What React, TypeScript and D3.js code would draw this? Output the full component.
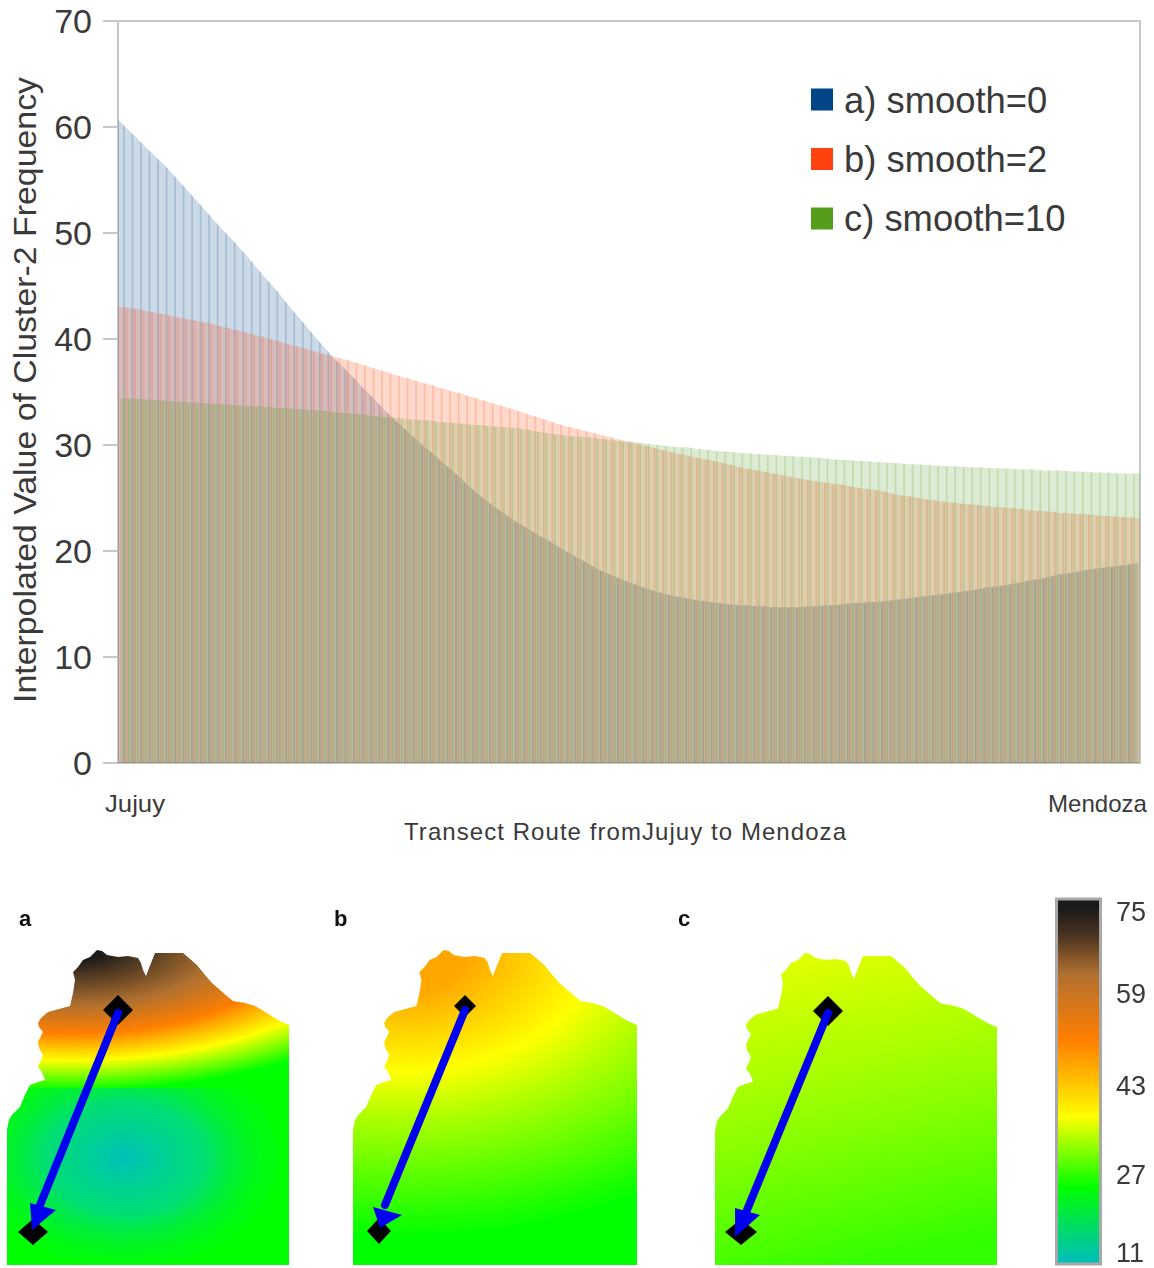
import React from "react";
import * as d3 from "d3";

const yTicks = [0, 10, 20, 30, 40, 50, 60, 70];
const endLabels = ["Jujuy", "Mendoza"];
const legendLabels = ["a) smooth=0", "b) smooth=2", "c) smooth=10"];
const seriesColors = ["#004586", "#ff420e", "#579d1c"];

const smooth0 = [60.3,59.5,58.7,57.9,57.1,56.4,55.5,54.6,53.7,52.8,51.9,51.0,50.1,49.3,48.4,47.5,46.5,45.6,44.7,43.7,42.7,41.8,40.8,39.9,38.9,38.1,37.3,36.5,35.6,34.8,34.0,33.1,32.4,31.6,30.9,30.2,29.5,28.8,28.1,27.4,26.7,25.9,25.2,24.6,24.0,23.4,22.9,22.4,21.9,21.4,21.0,20.5,20.0,19.6,19.1,18.7,18.2,17.9,17.5,17.2,16.9,16.6,16.3,16.1,15.9,15.7,15.6,15.4,15.3,15.2,15.1,15.0,14.9,14.9,14.8,14.8,14.7,14.7,14.7,14.7,14.7,14.8,14.8,14.9,14.9,15.0,15.1,15.1,15.2,15.2,15.3,15.4,15.5,15.6,15.7,15.8,15.9,16.0,16.1,16.2,16.3,16.5,16.6,16.7,16.8,17.0,17.1,17.3,17.4,17.6,17.8,17.9,18.0,18.2,18.3,18.4,18.5,18.6,18.7,18.8];
const smooth2 = [43.0,42.9,42.8,42.6,42.5,42.3,42.1,42.0,41.8,41.7,41.5,41.3,41.1,40.9,40.7,40.5,40.3,40.1,39.9,39.6,39.4,39.2,39.0,38.7,38.5,38.3,38.1,37.9,37.6,37.4,37.1,36.9,36.6,36.4,36.2,35.9,35.7,35.5,35.2,35.0,34.8,34.5,34.3,34.1,33.8,33.6,33.3,33.1,32.8,32.6,32.3,32.0,31.8,31.6,31.4,31.2,31.0,30.8,30.6,30.4,30.2,30.0,29.8,29.6,29.4,29.2,29.1,28.9,28.7,28.6,28.4,28.2,28.0,27.8,27.7,27.5,27.4,27.2,27.1,26.9,26.8,26.6,26.5,26.4,26.3,26.2,26.0,25.9,25.8,25.7,25.5,25.3,25.2,25.1,24.9,24.8,24.7,24.6,24.5,24.4,24.4,24.3,24.2,24.1,24.1,24.0,23.9,23.8,23.8,23.7,23.6,23.6,23.5,23.5,23.4,23.3,23.3,23.2,23.2,23.1];
const smooth10 = [34.4,34.4,34.3,34.3,34.2,34.2,34.1,34.1,34.0,34.0,33.9,33.9,33.8,33.8,33.7,33.7,33.6,33.6,33.5,33.5,33.4,33.4,33.3,33.3,33.2,33.1,33.0,33.0,32.9,32.8,32.7,32.6,32.6,32.5,32.4,32.4,32.3,32.2,32.1,32.1,32.0,31.9,31.9,31.8,31.7,31.7,31.6,31.5,31.4,31.2,31.1,31.0,30.9,30.8,30.8,30.7,30.6,30.5,30.4,30.3,30.3,30.2,30.1,30.0,29.9,29.8,29.8,29.7,29.6,29.5,29.4,29.4,29.3,29.2,29.2,29.1,29.1,29.0,29.0,28.9,28.9,28.8,28.8,28.7,28.6,28.6,28.5,28.5,28.4,28.4,28.3,28.3,28.2,28.2,28.1,28.1,28.0,28.0,28.0,27.9,27.9,27.9,27.8,27.8,27.8,27.7,27.7,27.7,27.6,27.6,27.6,27.5,27.5,27.5,27.4,27.4,27.4,27.3,27.3,27.3];
const allSeries = [smooth0, smooth2, smooth10];

const colorValues = [75, 70, 63, 51, 44, 37, 24, 11];
const colorHexes = ["#1a1a1a", "#4a3320", "#b07030", "#ff7f00", "#ffbb00", "#ffff00", "#00ff00", "#00c0b4"];
const colorTicks = [75, 59, 43, 27, 11];

const outline: [number, number][] = [[97,950],[102,951],[107,955],[118,957],[128,956],[138,958],[141,963],[143,970],[146,976],[149,968],[155,953],[183,953],[190,959],[197,965],[205,975],[212,983],[220,990],[228,997],[233,1001],[245,1003],[255,1006],[262,1010],[270,1015],[280,1021],[289,1025],[289,1265],[7,1265],[7,1130],[9,1120],[12,1115],[20,1107],[25,1095],[30,1085],[38,1082],[45,1080],[42,1072],[38,1067],[41,1060],[43,1055],[39,1048],[38,1042],[41,1036],[43,1032],[39,1027],[38,1023],[41,1018],[48,1012],[70,1006],[73,993],[75,980],[73,972],[78,967],[83,960],[90,957]];

const panelNames = ["a", "b", "c"];
const panelLabelX = [19, 334, 678];
const panelTransform = [
  "",
  "translate(353 0) scale(1.007 1) translate(-7 0)",
  "translate(708 1265) scale(1 0.9905) translate(0 -1265)",
];
const startDiamond = [[118,1010,15,15],[465,1006,11,11],[828,1011,15,15]];
const endDiamond = [[33,1232,15,13],[379,1231,12,13],[741,1232,16,13]];
const shafts = [[118,1013,38,1210],[465,1010,385,1205],[828,1013,747,1210]];
const heads = [[[30,1203],[56,1210],[32,1230]],[[373,1207],[402,1215],[380,1228]],[[735,1208],[760,1215],[735,1237]]];

const W = 1154, H = 1268;
const left = 118, right = 1140, top = 21, bottom = 763;
const textCol = "#3a3a3a";
const sans = "'Liberation Sans', Arial, sans-serif";

export default function App() {
  const x = d3.scaleBand<number>().domain(d3.range(smooth0.length)).range([left, right]).padding(0);
  const y = d3.scaleLinear().domain([0, 70]).range([bottom, top]);
  const step = x.step();
  const offsets = [-0.3, 0.0, 0.3];
  const path = d3.line();
  const outlinePath = path(outline) + "Z";
  const barY = d3.scaleLinear().domain([75, 11]).range([910, 1258]);
  const barTop = 901, barBot = 1263;
  const stopOffset = d3.scaleLinear().domain([barTop, barBot]).range([0, 1]);
  const colorAt = d3.scaleLinear<string>().domain(colorValues).range(colorHexes).clamp(true);
  const tickBase: Record<number, number> = { 75: 921, 59: 1003, 43: 1095, 27: 1184, 11: 1262 };

  // smooth silhouette of each series, through the bar centres out to the plot edges
  const silhouette = (vals: number[]) => {
    const n = vals.length;
    const pts: [number, number][] = [
      [left, vals[0] + (vals[0] - vals[1]) / 2],
      ...vals.map((v, i) => [(x(i) as number) + step / 2, v] as [number, number]),
      [right, vals[n - 1] + (vals[n - 1] - vals[n - 2]) / 2],
    ];
    return d3.area<[number, number]>().x(d => d[0]).y0(bottom).y1(d => y(d[1])).curve(d3.curveBasis)(pts) as string;
  };

  const mapAValues = [75, 75, 63, 51, 37, 24];
  const mapAOffsets = [0, 0.1, 0.4, 0.59, 0.77, 0.97];

  return (
    <svg width={W} height={H} style={{ position: "absolute", left: 0, top: 0, background: "#fff" }} fontFamily={sans}>
      <defs>
        <clipPath id="plot"><rect x={left} y={top} width={right - left} height={bottom - top} /></clipPath>
        {allSeries.map((vals, s) => (
          <clipPath key={s} id={`sil${s}`}><path d={silhouette(vals)} /></clipPath>
        ))}
        <clipPath id="belowA"><rect x={0} y={1088} width={300} height={180} /></clipPath>
        <filter id="soft" x="-2%" y="-2%" width="104%" height="104%"><feGaussianBlur stdDeviation="0.6" /></filter>
        <filter id="softer" x="-2%" y="-2%" width="104%" height="104%"><feGaussianBlur stdDeviation="0.5" /></filter>
        <radialGradient id="mapA" gradientUnits="userSpaceOnUse" cx={0} cy={0} r={1} gradientTransform="translate(70 945) scale(375 150)">
          {mapAValues.map((v, i) => <stop key={i} offset={mapAOffsets[i]} stopColor={colorAt(v)} />)}
        </radialGradient>
        <radialGradient id="spotA" gradientUnits="userSpaceOnUse" cx={0} cy={0} r={1} gradientTransform="translate(125 1158) scale(175 125)">
          <stop offset={0} stopColor="#00c0b8" stopOpacity={1} />
          <stop offset={0.45} stopColor="#00d888" stopOpacity={0.85} />
          <stop offset={1} stopColor="#00ff00" stopOpacity={0} />
        </radialGradient>
        <radialGradient id="mapB" gradientUnits="userSpaceOnUse" cx={0} cy={0} r={1} gradientTransform="translate(55 950) scale(454 288)">
          <stop offset={0} stopColor="#ffa400" />
          <stop offset={0.15} stopColor="#ffa800" />
          <stop offset={0.42} stopColor="#ffff00" />
          <stop offset={0.58} stopColor="#b0ff00" />
          <stop offset={1} stopColor="#00ff00" />
        </radialGradient>
        <linearGradient id="mapC" gradientUnits="userSpaceOnUse" x1={100} y1={960} x2={170} y2={1265}>
          <stop offset={0} stopColor="#deff00" />
          <stop offset={0.5} stopColor="#90ff00" />
          <stop offset={1} stopColor="#30ff00" />
        </linearGradient>
        <linearGradient id="bar" x1={0} y1={0} x2={0} y2={1}>
          {colorValues.map((v, i) => <stop key={v} offset={stopOffset(barY(v))} stopColor={colorHexes[i]} />)}
        </linearGradient>
      </defs>

      <rect x={left} y={top} width={right - left} height={bottom - top} fill="none" stroke="#c8c8c8" strokeWidth={2} />
      {yTicks.map(t => (
        <g key={t}>
          <line x1={103} x2={left} y1={y(t)} y2={y(t)} stroke="#c8c8c8" strokeWidth={2} />
          <text x={92} y={y(t) + 12} textAnchor="end" fontSize={34} fill={textCol}>{t}</text>
        </g>
      ))}

      <g clipPath="url(#plot)" filter="url(#soft)">
        {allSeries.map((vals, s) => (
          <g key={s} clipPath={`url(#sil${s})`} fill={seriesColors[s]} fillOpacity={0.2}>
            {vals.map((v, i) => (
              <rect key={i} x={(x(i) as number) + (offsets[s] - 0.1) * step} width={step * 1.2} y={y(v) - 16} height={bottom - y(v) + 16} />
            ))}
          </g>
        ))}
      </g>

      <text transform="translate(36 390) rotate(-90)" textAnchor="middle" fontSize={30.5} fill={textCol} textLength={626} lengthAdjust="spacingAndGlyphs">Interpolated Value of Cluster-2 Frequency</text>
      <text x={105} y={812} fontSize={24} fill={textCol} textLength={60} lengthAdjust="spacingAndGlyphs">{endLabels[0]}</text>
      <text x={1048} y={812} fontSize={24} fill={textCol} textLength={99} lengthAdjust="spacingAndGlyphs">{endLabels[1]}</text>
      <text x={404} y={840} fontSize={24} fill={textCol} textLength={442}>Transect Route fromJujuy to Mendoza</text>

      {legendLabels.map((l, i) => (
        <g key={l}>
          <rect x={811} y={88.5 + i * 59.5} width={22} height={22} fill={seriesColors[i]} />
          <text x={844} y={112.5 + i * 59} fontSize={36.4} fill={textCol}>{l}</text>
        </g>
      ))}

      <g filter="url(#softer)">
        {panelNames.map((n, i) => (
          <g key={n}>
            <g transform={panelTransform[i]}>
              <path d={outlinePath} fill={`url(#map${n.toUpperCase()})`} />
              {i === 0 && <g clipPath="url(#belowA)"><path d={outlinePath} fill="url(#spotA)" /></g>}
            </g>
            {[startDiamond[i], endDiamond[i]].map((d, k) => (
              <path key={k} d={`M${d[0]} ${d[1] - d[3]}L${d[0] + d[2]} ${d[1]}L${d[0]} ${d[1] + d[3]}L${d[0] - d[2]} ${d[1]}Z`} fill="#000" />
            ))}
            <line x1={shafts[i][0]} y1={shafts[i][1]} x2={shafts[i][2]} y2={shafts[i][3]} stroke="#0000f0" strokeWidth={8} strokeLinecap="round" />
            <path d={path(heads[i] as [number, number][]) + "Z"} fill="#0000f0" />
          </g>
        ))}
      </g>
      {panelNames.map((n, i) => (
        <text key={n} x={panelLabelX[i]} y={926} fontSize={22} fontWeight="bold" fill="#111">{n}</text>
      ))}

      <rect x={1056.5} y={899} width={44} height={365} fill="url(#bar)" stroke="#a8a8a8" strokeWidth={3} />
      {colorTicks.map(t => (
        <text key={t} x={1116} y={tickBase[t]} fontSize={27} fill={textCol}>{t}</text>
      ))}
    </svg>
  );
}
